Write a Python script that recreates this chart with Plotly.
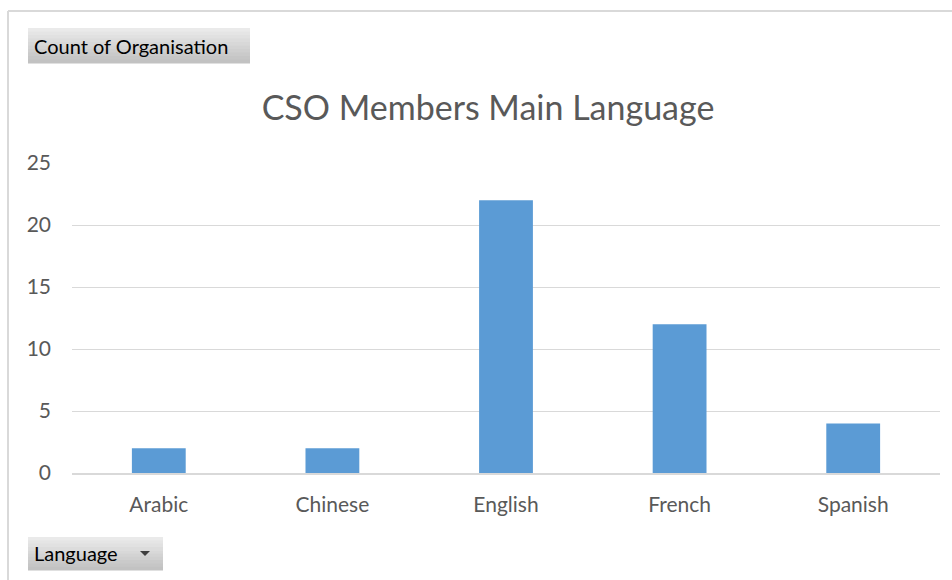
import plotly.graph_objects as go

languages = ["Arabic", "Chinese", "English", "French", "Spanish"]
counts = [2, 2, 22, 12, 4]
y_ticks = [0, 5, 10, 15, 20, 25]

W, H = 952, 580
L, R, T, B = 72, 12, 163, 107
PW, PH = W - L - R, H - T - B
FONT = "Lato, 'Open Sans', sans-serif"


def px(x):
    return (x - L) / PW


def py(y):
    return (H - B - y) / PH


fig = go.Figure()
fig.add_trace(go.Bar(x=languages, y=counts, marker_color="#5B9BD5", width=0.31,
                     marker_line_width=0, hoverinfo="x+y"))

shapes = []
# chart border (top and left)
shapes.append(dict(type="line", xref="paper", yref="paper", x0=px(8), x1=px(960), y0=py(11), y1=py(11),
                   line=dict(color="#D9D9D9", width=2), layer="below"))
shapes.append(dict(type="line", xref="paper", yref="paper", x0=px(8), x1=px(8), y0=py(11), y1=py(590),
                   line=dict(color="#D9D9D9", width=2), layer="below"))


def button(x0, x1, y0, y1):
    n = 10
    h = (y1 - y0) / n
    for i in range(n):
        t = i / (n - 1)
        c = int(234 - t * (234 - 194))
        shapes.append(dict(type="rect", xref="paper", yref="paper",
                           x0=px(x0), x1=px(x1), y0=py(y0 + i * h), y1=py(y0 + (i + 1) * h + 0.5),
                           fillcolor=f"rgb({c},{c},{c})", line=dict(width=0), layer="above"))


button(28, 250, 28, 63)
button(28, 163, 537, 570)
# dropdown triangle
shapes.append(dict(type="path", xref="paper", yref="paper",
                   path=f"M {px(140)},{py(551)} L {px(150)},{py(551)} L {px(145)},{py(556)} Z",
                   fillcolor="#404040", line=dict(width=0), layer="above"))

annotations = [
    dict(text="Count of Organisation", xref="paper", yref="paper", x=px(32), y=py(46),
         xanchor="left", yanchor="middle", showarrow=False,
         font=dict(family=FONT, size=20, color="#000000")),
    dict(text="Language", xref="paper", yref="paper", x=px(32), y=py(553),
         xanchor="left", yanchor="middle", showarrow=False,
         font=dict(family=FONT, size=20, color="#000000")),
]

fig.update_layout(
    width=W, height=H,
    margin=dict(l=L, r=R, t=T, b=B),
    paper_bgcolor="white", plot_bgcolor="white",
    showlegend=False,
    title=dict(text="CSO Members Main Language", x=488 / W, xanchor="center",
               y=1 - 108 / H, yanchor="middle", yref="container", xref="container",
               font=dict(family=FONT, size=34, color="#595959")),
    font=dict(family=FONT, color="#595959", size=21),
    shapes=shapes,
    annotations=annotations,
    bargap=0.69,
)
fig.update_xaxes(showgrid=False, showline=True, linecolor="#D9D9D9", linewidth=2,
                 ticks="", ticklabelstandoff=12, tickfont=dict(size=21, color="#595959"))
fig.update_yaxes(range=[0, 25], tickvals=y_ticks, showgrid=True, gridcolor="#D9D9D9",
                 gridwidth=1, zeroline=False, showline=False,
                 ticks="", ticklabelstandoff=20, tickfont=dict(size=21, color="#595959"))

fig.write_html("out.html", config={"displayModeBar": False},
               post_script="document.body.style.margin='0';document.body.style.overflow='hidden';")
